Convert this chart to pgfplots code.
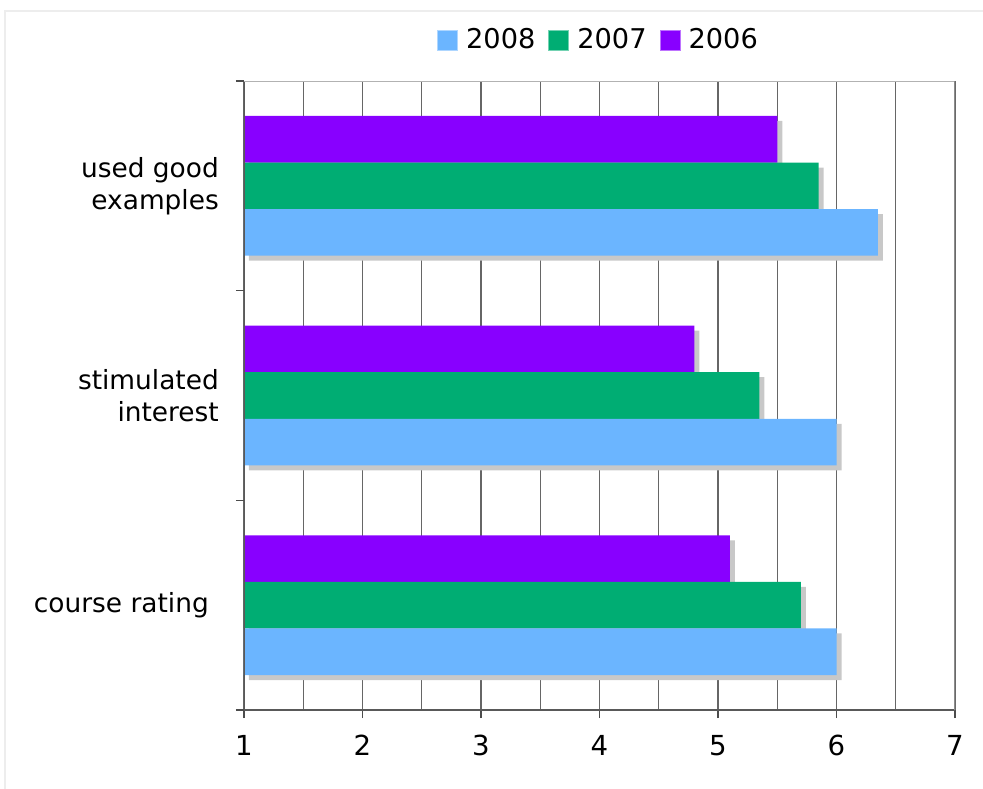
\documentclass[border=0pt]{standalone}
\usepackage{fontspec}
\setmainfont{DejaVu Sans}
\usepackage{pgfplots}
\pgfplotsset{compat=1.18}
\definecolor{c2008}{RGB}{107,181,255}
\definecolor{c2007}{RGB}{0,173,115}
\definecolor{c2006}{RGB}{136,0,255}
\definecolor{shad}{RGB}{200,200,200}
\begin{document}
\fontsize{13.2}{16}\selectfont
\begin{tikzpicture}
\useasboundingbox (-122pt,-39pt) rectangle (369.5pt,355pt);
\draw[black!7, line width=0.6pt] (-119.5pt,-60pt) rectangle (400pt,349.5pt);
\begin{axis}[
  scale only axis, width=355.5pt, height=314.5pt,
  at={(0,0)}, anchor=south west,
  font=\fontsize{13.2}{16}\selectfont,
  xmin=1, xmax=7, ymin=-0.5, ymax=2.5,
  xtick={1,2,3,4,5,6,7}, minor x tick num=1,
  xmajorgrids, xminorgrids,
  major grid style={draw=black!60, line width=0.7pt},
  minor grid style={draw=black!60, line width=0.7pt},
  xtick pos=bottom, ytick pos=left,
  ytick={-0.5,0.5,1.5,2.5}, yticklabels={},
  extra y ticks={0,1,2},
  extra y tick labels={{course rating\hspace{5pt}},{stimulated\\interest},{used good\\examples}},
  extra y tick style={major tick length=0pt, yticklabel style={xshift=-8pt}},
  yticklabel style={align=right},
  tick align=outside, major tick length=4pt, minor tick length=0pt,
  tick style={draw=black!70, line width=0.7pt},
  xticklabel style={yshift=-4pt, font=\fontsize{13.8}{16}\selectfont},
  /pgf/number format/assume math mode=true,
  axis line style={draw=none},
  xbar, bar width=0.2222,
  clip=true,
  legend style={at={(0.5,1.065)}, anchor=center, draw=none, fill=none,
    font=\fontsize{13.6}{16}\selectfont,
    legend columns=-1, column sep=2pt,
    /tikz/every even column/.append style={column sep=4.5pt}},
  legend image code/.code={\filldraw[#1, line width=0.5pt] (0pt,-5pt) rectangle (10pt,5pt);},
]
\addplot[forget plot, draw=none, fill=c2006, bar shift=0.2222,
  preaction={fill=shad, transform canvas={xshift=2.5pt, yshift=-2.5pt}}]
  coordinates {(5.1,0) (4.8,1) (5.5,2)};
\addplot[forget plot, draw=none, fill=c2007, bar shift=0,
  preaction={fill=shad, transform canvas={xshift=2.5pt, yshift=-2.5pt}}]
  coordinates {(5.7,0) (5.35,1) (5.85,2)};
\addplot[forget plot, draw=none, fill=c2008, bar shift=-0.2222,
  preaction={fill=shad, transform canvas={xshift=2.5pt, yshift=-2.5pt}}]
  coordinates {(6.0,0) (6.0,1) (6.35,2)};
\addlegendimage{fill=c2008, draw=c2008!55!white}
\addlegendentry{2008}
\addlegendimage{fill=c2007, draw=c2007!55!white}
\addlegendentry{2007}
\addlegendimage{fill=c2006, draw=c2006!55!white}
\addlegendentry{2006}
\draw[black!65, line width=0.9pt] (rel axis cs:0,0) -- (rel axis cs:0,1);
\draw[black!65, line width=0.9pt] (rel axis cs:0,0) -- (rel axis cs:1,0);
\draw[black!30, line width=1.2pt] (rel axis cs:0,1) -- (rel axis cs:1,1);
\draw[black!45, line width=1.4pt] (rel axis cs:1,0) -- (rel axis cs:1,1);
\end{axis}
\end{tikzpicture}
\end{document}
